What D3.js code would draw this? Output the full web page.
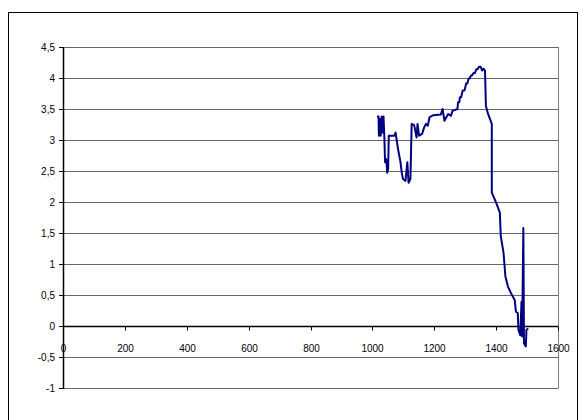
<!DOCTYPE html>
<html>
<head>
<meta charset="utf-8">
<script src="https://cdn.jsdelivr.net/npm/d3@7"></script>
<style>
  html, body { margin: 0; padding: 0; background: #ffffff; }
  svg { display: block; }
  text { font-family: "Liberation Sans", Arial, sans-serif; font-size: 10px; fill: #000; }
</style>
</head>
<body>
<svg id="chart" width="580" height="420"></svg>
<script>
// Measured profile: position along x and reading at each position
const xValues = [
  1015, 1020, 1021, 1024, 1027, 1030, 1033, 1036, 1039, 1041, 1045, 1048, 1051, 1053,
  1071, 1075, 1083, 1091, 1095, 1099, 1107, 1113, 1117, 1123, 1127, 1135, 1143, 1146,
  1151, 1161, 1167, 1173, 1179, 1185, 1197, 1221, 1227, 1233, 1245, 1254, 1259, 1275,
  1277, 1281, 1283, 1287, 1292, 1298, 1303, 1307, 1311, 1314, 1319, 1322, 1327, 1331,
  1336, 1340, 1345, 1350, 1355, 1359, 1364, 1367, 1374,
  1386, 1386, 1400, 1412, 1415, 1424, 1430, 1438, 1448, 1460, 1464, 1470, 1472, 1478,
  1482, 1484, 1488, 1490, 1496, 1498, 1504
];
const yValues = [
  3.38, 3.38, 3.07, 3.34, 3.07, 3.38, 3.12, 3.38, 3.01, 2.64, 2.69, 2.47, 2.53, 3.07,
  3.07, 3.12, 2.85, 2.64, 2.47, 2.37, 2.34, 2.64, 2.31, 2.37, 3.26, 3.24, 3.04, 3.26,
  3.07, 3.10, 3.20, 3.26, 3.23, 3.37, 3.40, 3.41, 3.50, 3.31, 3.42, 3.39, 3.47, 3.50,
  3.61, 3.61, 3.69, 3.69, 3.80, 3.80, 3.91, 3.91, 3.99, 3.99, 4.04, 4.04, 4.08, 4.08,
  4.14, 4.14, 4.18, 4.18, 4.12, 4.15, 4.12, 3.55, 3.42,
  3.26, 2.15, 1.99, 1.83, 1.45, 1.18, 0.80, 0.64, 0.53, 0.42, 0.23, 0.21, -0.06, -0.15,
  0.39, -0.17, 1.58, -0.28, -0.33, -0.06, -0.04
];
const xTicks = [0, 200, 400, 600, 800, 1000, 1200, 1400, 1600];
const yTicks = [-1, -0.5, 0, 0.5, 1, 1.5, 2, 2.5, 3, 3.5, 4, 4.5];

const svg = d3.select("#chart");

// Outer chart frame
svg.append("rect")
  .attr("x", 8.5).attr("y", 12.5)
  .attr("width", 569).attr("height", 430)
  .attr("fill", "none").attr("stroke", "#000").attr("stroke-width", 1);

const x = d3.scaleLinear().domain([0, 1600]).range([63, 558]);
const y = d3.scaleLinear().domain([-1, 4.5]).range([388, 47]);

const fmt = d => String(d).replace(".", ",");

// Horizontal gridlines
svg.append("g")
  .selectAll("line")
  .data(yTicks)
  .join("line")
  .attr("x1", x(0)).attr("x2", x(1600))
  .attr("y1", d => Math.round(y(d)) + 0.5).attr("y2", d => Math.round(y(d)) + 0.5)
  .attr("stroke", "#666666").attr("stroke-width", 1);

// Right edge of plot area
svg.append("line")
  .attr("x1", Math.round(x(1600)) + 0.5).attr("x2", Math.round(x(1600)) + 0.5)
  .attr("y1", y(4.5)).attr("y2", y(-1) + 0.5)
  .attr("stroke", "#808080").attr("stroke-width", 1);

// Y axis
const yAxis = d3.axisLeft(y)
  .tickValues(yTicks)
  .tickFormat(fmt)
  .tickSize(4)
  .tickPadding(4);
const gy = svg.append("g")
  .attr("transform", `translate(${Math.round(x(0))},0)`)
  .call(yAxis);
gy.selectAll(".tick").attr("transform", d => `translate(0,${Math.round(y(d)) + 0.5})`);
gy.select(".domain").attr("stroke", "#000").attr("stroke-width", 1.5)
  .attr("d", `M0.5,${y(4.5)}V${y(-1) + 1}`);
gy.selectAll(".tick line").attr("stroke", "#000");
gy.selectAll(".tick text").attr("font-size", 10).attr("font-family", "Liberation Sans, Arial, sans-serif");

// X axis, crossing at y = 0
const xAxis = d3.axisBottom(x)
  .tickValues(xTicks)
  .tickFormat(d => d)
  .tickSize(4)
  .tickPadding(14);
const gx = svg.append("g")
  .attr("transform", `translate(0,${Math.round(y(0)) + 0.5})`)
  .call(xAxis);
gx.selectAll(".tick").attr("transform", d => `translate(${Math.round(x(d)) + 0.5},0)`);
gx.select(".domain").attr("stroke", "#000").attr("stroke-width", 1.5)
  .attr("d", `M${x(0)},0H${x(1600)}`);
gx.selectAll(".tick line").attr("stroke", "#000");
gx.selectAll(".tick text").attr("font-size", 10).attr("font-family", "Liberation Sans, Arial, sans-serif");

// Data line
const points = xValues.map((v, i) => [v, yValues[i]]);
svg.append("path")
  .datum(points)
  .attr("fill", "none")
  .attr("stroke", "#000080")
  .attr("stroke-width", 2)
  .attr("stroke-linejoin", "round")
  .attr("d", d3.line().x(d => x(d[0])).y(d => y(d[1])));
</script>
</body>
</html>
